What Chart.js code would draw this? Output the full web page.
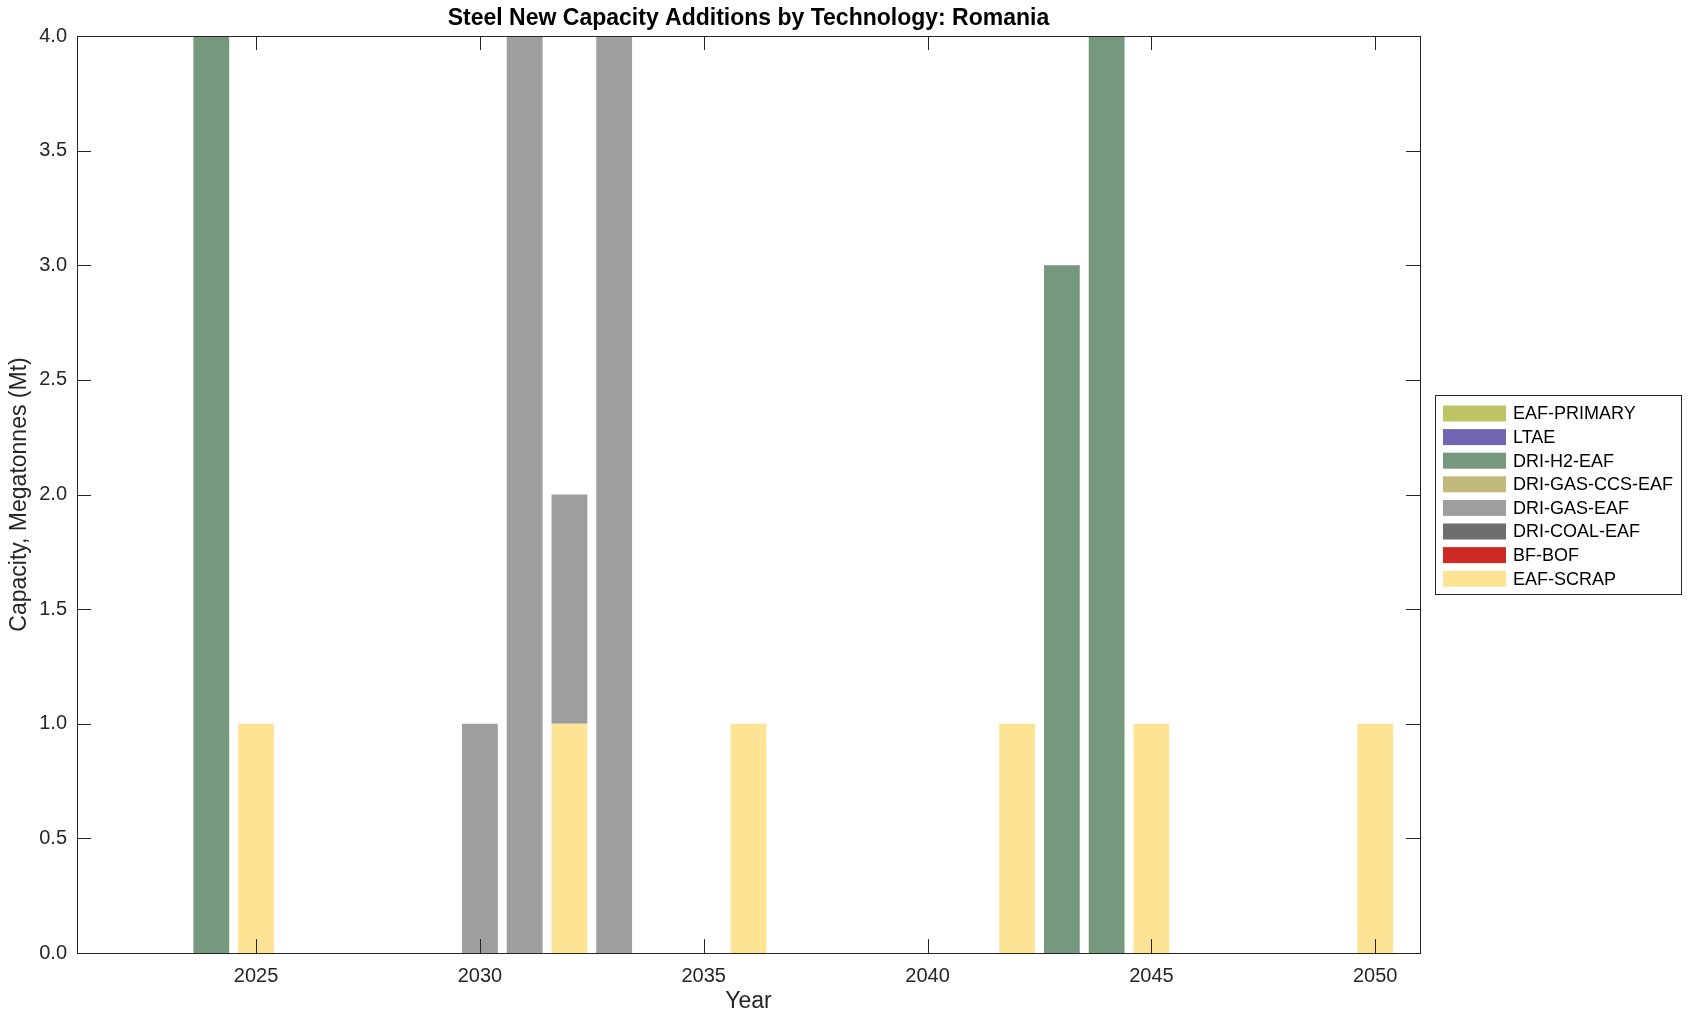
<!DOCTYPE html>
<html>
<head>
<meta charset="utf-8">
<script src="https://cdn.jsdelivr.net/npm/chart.js@4.4.1/dist/chart.umd.min.js"></script>
<style>
  html, body { margin: 0; padding: 0; background: #fff; }
</style>
</head>
<body>
<canvas id="myChart" width="1696" height="1021"></canvas>
<script>
const years = [2024, 2025, 2030, 2031, 2032, 2033, 2036, 2042, 2043, 2044, 2045, 2050];
const eafScrap    = [0, 1, 0, 0, 1, 0, 1, 1, 0, 0, 1, 1];
const bfBof       = [0, 0, 0, 0, 0, 0, 0, 0, 0, 0, 0, 0];
const driCoalEaf  = [0, 0, 0, 0, 0, 0, 0, 0, 0, 0, 0, 0];
const driGasEaf   = [0, 0, 1, 4, 1, 4, 0, 0, 0, 0, 0, 0];
const driGasCcs   = [0, 0, 0, 0, 0, 0, 0, 0, 0, 0, 0, 0];
const driH2Eaf    = [4, 0, 0, 0, 0, 0, 0, 0, 3, 4, 0, 0];
const ltae        = [0, 0, 0, 0, 0, 0, 0, 0, 0, 0, 0, 0];
const eafPrimary  = [0, 0, 0, 0, 0, 0, 0, 0, 0, 0, 0, 0];
const xTicks = [2025, 2030, 2035, 2040, 2045, 2050];
const yTicks = [0, 0.5, 1, 1.5, 2, 2.5, 3, 3.5, 4];

// bottom of stack first
const series = [
  { label: 'EAF-SCRAP',       data: eafScrap,   color: 'rgb(253,227,148)' },
  { label: 'BF-BOF',          data: bfBof,      color: 'rgb(206,42,36)' },
  { label: 'DRI-COAL-EAF',    data: driCoalEaf, color: 'rgb(110,110,110)' },
  { label: 'DRI-GAS-EAF',     data: driGasEaf,  color: 'rgb(158,158,156)' },
  { label: 'DRI-GAS-CCS-EAF', data: driGasCcs,  color: 'rgb(194,186,124)' },
  { label: 'DRI-H2-EAF',      data: driH2Eaf,   color: 'rgb(118,152,124)' },
  { label: 'LTAE',            data: ltae,       color: 'rgb(112,102,178)' },
  { label: 'EAF-PRIMARY',     data: eafPrimary, color: 'rgb(188,196,101)' }
];

const FONT = '"Liberation Sans", Arial, Helvetica, sans-serif';
const INK = '#262626';

const frame = {
  id: 'frame',
  afterDraw(chart) {
    const ctx = chart.ctx;
    const a = chart.chartArea;
    const xs = chart.scales.x, ys = chart.scales.y;
    ctx.save();
    ctx.strokeStyle = INK;
    ctx.lineWidth = 1;
    ctx.beginPath();
    xTicks.forEach(v => {
      const px = Math.round(xs.getPixelForValue(v)) + 0.5;
      ctx.moveTo(px, a.bottom); ctx.lineTo(px, a.bottom - 14);
      ctx.moveTo(px, a.top); ctx.lineTo(px, a.top + 14);
    });
    yTicks.forEach(v => {
      const py = Math.round(ys.getPixelForValue(v)) + 0.5;
      ctx.moveTo(a.left, py); ctx.lineTo(a.left + 14, py);
      ctx.moveTo(a.right, py); ctx.lineTo(a.right - 14, py);
    });
    ctx.stroke();
    ctx.strokeRect(Math.round(a.left) + 0.5, Math.round(a.top) + 0.5,
      Math.round(a.right - a.left), Math.round(a.bottom - a.top));

    // title and axis titles
    ctx.fillStyle = '#000';
    ctx.textAlign = 'center';
    ctx.textBaseline = 'middle';
    ctx.font = 'bold 23px ' + FONT;
    ctx.fillText('Steel New Capacity Additions by Technology: Romania', (a.left + a.right) / 2, 19);
    ctx.fillStyle = INK;
    ctx.font = '23px ' + FONT;
    ctx.fillText('Year', (a.left + a.right) / 2, 1002);
    ctx.save();
    ctx.translate(20, (a.top + a.bottom) / 2);
    ctx.rotate(-Math.PI / 2);
    ctx.fillText('Capacity, Megatonnes (Mt)', 0, 0);
    ctx.restore();

    // legend
    const lx = 1435, ly = 395, lw = 246, lh = 199;
    ctx.fillStyle = '#fff';
    ctx.fillRect(lx, ly, lw, lh);
    ctx.strokeStyle = INK;
    ctx.strokeRect(lx + 0.5, ly + 0.5, lw, lh);
    ctx.font = '18px ' + FONT;
    ctx.textAlign = 'left';
    const items = series.slice().reverse();
    items.forEach((s, i) => {
      const cy = 413.5 + i * 23.6;
      ctx.fillStyle = s.color;
      ctx.fillRect(1443, cy - 8, 63, 16);
      ctx.fillStyle = '#000';
      ctx.fillText(s.label, 1513, cy + 1);
    });
    ctx.restore();
  }
};

new Chart(document.getElementById('myChart'), {
  type: 'bar',
  data: {
    datasets: series.map(s => ({
      label: s.label,
      data: years.map((yr, i) => ({ x: yr, y: s.data[i] })),
      backgroundColor: s.color,
      borderWidth: 0,
      barPercentage: 0.8,
      categoryPercentage: 1.0
    }))
  },
  options: {
    responsive: false,
    animation: false,
    maintainAspectRatio: false,
    layout: { padding: { left: 0, top: 36, right: 276, bottom: 0 } },
    plugins: { legend: { display: false }, title: { display: false }, tooltip: { enabled: false } },
    scales: {
      x: {
        type: 'linear',
        stacked: true,
        offset: false,
        bounds: 'data',
        min: 2021,
        max: 2051,
        afterBuildTicks: s => { s.ticks = xTicks.map(v => ({ value: v })); },
        afterFit: s => { s.height = 68; },
        grid: { display: false, drawTicks: false },
        border: { display: false },
        ticks: { padding: 11, maxRotation: 0, minRotation: 0, autoSkip: false, color: INK, font: { family: FONT, size: 20 }, callback: v => String(v) }
      },
      y: {
        stacked: true,
        min: 0,
        max: 4,
        afterBuildTicks: s => { s.ticks = yTicks.map(v => ({ value: v })); },
        afterFit: s => { s.width = 77; },
        grid: { display: false, drawTicks: false },
        border: { display: false },
        ticks: { padding: 10, autoSkip: false, color: INK, font: { family: FONT, size: 20 }, callback: v => v.toFixed(1) }
      }
    }
  },
  plugins: [frame]
});
</script>
</body>
</html>
